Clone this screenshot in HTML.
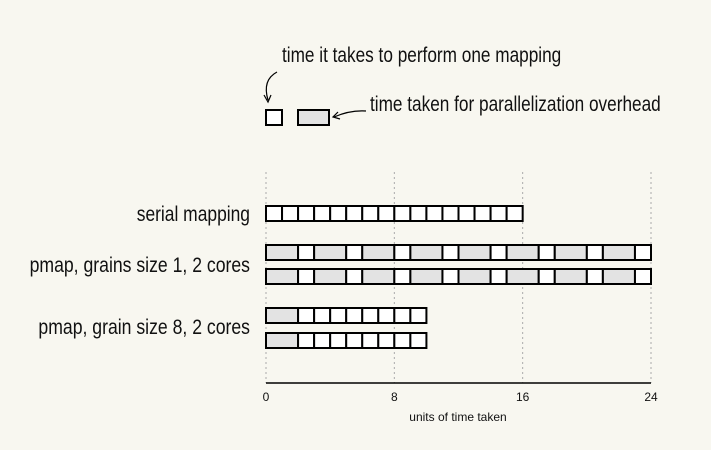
<!DOCTYPE html>
<html><head><meta charset="utf-8"><style>
body{margin:0;background:#f8f7f0;}
svg{display:block;}
.hand{font-family:"Liberation Sans Narrow","Liberation Sans",sans-serif;font-size:21px;fill:#111;}
.tick{font-family:"Liberation Sans",sans-serif;font-size:12px;fill:#111;}
</style></head><body>
<svg id="chart" width="711" height="450">
<rect width="711" height="450" fill="#f8f7f0"/>
<g id="grid"></g>
<g id="bars"></g>
<g id="axis"></g>
<g>
<rect x="266" y="110" width="16" height="15" fill="#fff" stroke="#000" stroke-width="2"/>
<rect x="298" y="110" width="31" height="15" fill="#e3e3e3" stroke="#000" stroke-width="2"/>
<text class="hand" x="282" y="62" transform="translate(282,0) scale(0.82,1) translate(-282,0)">time it takes to perform one mapping</text>
<text class="hand" x="370" y="111" transform="translate(370,0) scale(0.82,1) translate(-370,0)">time taken for parallelization overhead</text>
<path d="M277 72 Q262 80 268 100" fill="none" stroke="#000" stroke-width="1.2"/>
<path d="M264 95 L268 102 L271 95" fill="none" stroke="#000" stroke-width="1.2"/>
<path d="M366 111 Q350 110 334 117" fill="none" stroke="#000" stroke-width="1.2"/>
<path d="M338 112 L333 117 L340 119" fill="none" stroke="#000" stroke-width="1.2"/>
</g>
<text class="hand" x="250" y="221" text-anchor="end" transform="translate(250,0) scale(0.83,1) translate(-250,0)">serial mapping</text>
<text class="hand" x="250" y="272" text-anchor="end" transform="translate(250,0) scale(0.84,1) translate(-250,0)">pmap, grains size 1, 2 cores</text>
<text class="hand" x="250" y="334" text-anchor="end" transform="translate(250,0) scale(0.84,1) translate(-250,0)">pmap, grain size 8, 2 cores</text>
<text class="tick" x="458" y="421" text-anchor="middle">units of time taken</text>
</svg>
<script>
const ticks=[0,8,16,24];
// each row: list of segment types ('m' = mapping 1 unit, 'o' = overhead 2 units)
const serialRow=['m','m','m','m','m','m','m','m','m','m','m','m','m','m','m','m'];
const pmap1Row=['o','m','o','m','o','m','o','m','o','m','o','m','o','m','o','m'];
const pmap8Row=['o','m','m','m','m','m','m','m','m'];
const segLength={m:1,o:2};
const rows=[serialRow,pmap1Row,pmap1Row,pmap8Row,pmap8Row];
const rowNames=['serial','pmap1-core1','pmap1-core2','pmap8-core1','pmap8-core2'];
const rowY=[206,245,269,308,333];
const NS='http://www.w3.org/2000/svg';
const x=v=>266+v*(385/24);
const grid=document.getElementById('grid'),bars=document.getElementById('bars'),axis=document.getElementById('axis');
ticks.forEach(t=>{
  const l=document.createElementNS(NS,'line');
  l.setAttribute('x1',x(t));l.setAttribute('x2',x(t));l.setAttribute('y1',172);l.setAttribute('y2',383);
  l.setAttribute('stroke','#aaa');l.setAttribute('stroke-dasharray','2,3');
  
  
  grid.appendChild(l);
  const tx=document.createElementNS(NS,'text');
  tx.setAttribute('x',x(t));tx.setAttribute('y',401);tx.setAttribute('text-anchor','middle');tx.setAttribute('class','tick');
  tx.textContent=t;
  
  
  axis.appendChild(tx);
});
const al=document.createElementNS(NS,'line');
al.setAttribute('x1',x(0));al.setAttribute('x2',x(24));al.setAttribute('y1',383);al.setAttribute('y2',383);
al.setAttribute('stroke','#000');al.setAttribute('stroke-width','1.5');


axis.appendChild(al);
rows.forEach((row,ri)=>{
  let pos=0;
  row.forEach((s,si)=>{
    const len=segLength[s];
    const r=document.createElementNS(NS,'rect');
    r.setAttribute('x',x(pos));r.setAttribute('y',rowY[ri]);
    r.setAttribute('width',x(pos+len)-x(pos));r.setAttribute('height',15);
    r.setAttribute('fill',s==='o'?'#e3e3e3':'#fff');r.setAttribute('stroke','#000');r.setAttribute('stroke-width','2');
    
    
    bars.appendChild(r);
    pos+=len;
  });
});
</script>
</body></html>
